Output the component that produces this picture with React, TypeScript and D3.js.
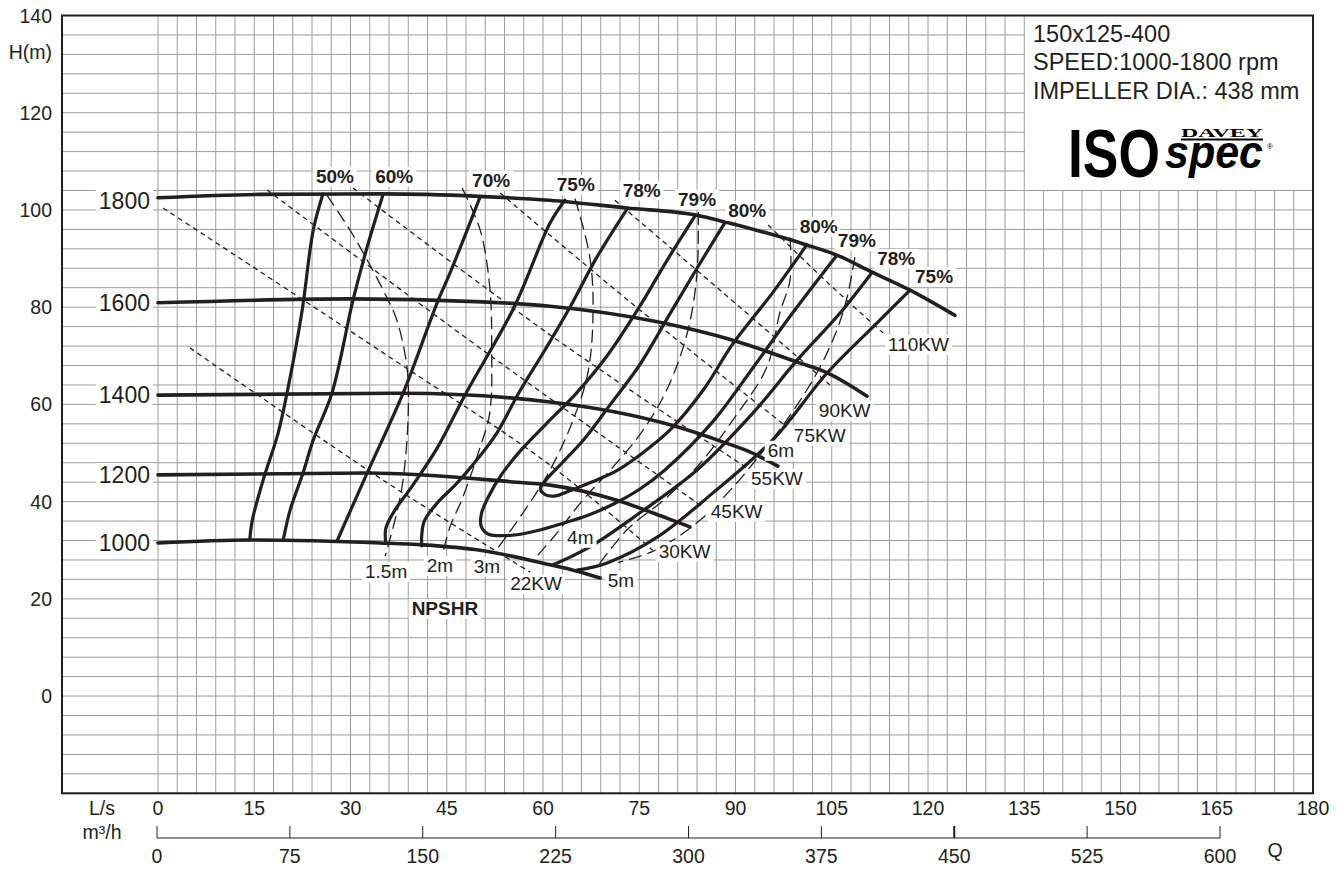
import React, { useEffect, useRef } from "react";
import * as d3 from "d3";

type Pt = [number, number];

// ---- axis ticks ----
const yTicks = [140, 120, 100, 80, 60, 40, 20, 0];
const lsTicks = [0, 15, 30, 45, 60, 75, 90, 105, 120, 135, 150, 165, 180];
const m3hTicks = [0, 75, 150, 225, 300, 375, 450, 525, 600];

// ---- speed curves (Q L/s, H m) ----
const speedNames = ["1800", "1600", "1400", "1200", "1000"];
const speed1800: Pt[] = [[0, 102.5], [16, 103.2], [35, 103.3], [50, 102.8], [61, 102.0], [73, 100.4], [84, 98.9], [88.4, 97.5], [101.1, 92.8], [105.8, 90.7], [111.3, 87.2], [117.2, 83.5], [124.2, 78.3]];
const speed1600: Pt[] = [[0, 80.9], [30, 81.7], [50.6, 81.1], [61.1, 80.2], [77.8, 77.0], [89.6, 73.2], [99.6, 68.7], [104.3, 66.5], [110.5, 61.7]];
const speed1400: Pt[] = [[0, 61.9], [38.2, 62.3], [61.1, 60.5], [79.8, 55.8], [88.0, 52.3], [92.3, 50.2], [96.6, 47.3]];
const speed1200: Pt[] = [[0, 45.5], [32.6, 45.9], [55.9, 44.0], [61.1, 43.4], [71.5, 40.3], [79.3, 36.6], [82.9, 34.8]];
const speed1000: Pt[] = [[0, 31.5], [14.3, 32.1], [34.6, 31.5], [41.3, 31.1], [50.2, 30.0], [61.1, 27.0], [64.7, 25.9], [68.9, 24.3]];

// ---- efficiency curves ----
const eff50: Pt[] = [[25.7, 103.3], [24.2, 95.9], [22.4, 78.8], [20.1, 62.3], [18.7, 54.0], [16.4, 44.5], [14.7, 36.2], [14.3, 32.1]];
const eff60: Pt[] = [[35.1, 103.3], [32.6, 92.4], [30.4, 81.5], [27.1, 62.3], [24.2, 52.7], [22.6, 45.9], [20.6, 38.3], [19.5, 32.0]];
const eff70: Pt[] = [[50.2, 102.7], [45.5, 87.0], [43.5, 80.9], [38.2, 62.3], [32.6, 45.9], [27.9, 31.9]];
const eff75L: Pt[] = [[63.4, 102.0], [61.1, 97.3], [55.5, 80.0], [48.0, 62.3], [43.5, 51.0], [39.5, 43.0], [36.8, 38.0], [35.5, 34.5], [35.5, 31.4]];
const eff78L: Pt[] = [[73.2, 100.4], [68.4, 90.3], [64.2, 80.0], [60.3, 71.2], [56.2, 62.3], [52.8, 54.1], [49.7, 48.6], [46.6, 43.8], [43.5, 39.7], [41.5, 36.0], [41.1, 33.0], [41.1, 30.9]];
const eff79: Pt[] = [[83.7, 98.8], [79.5, 90], [75, 80], [70, 70], [65, 62], [60.5, 56], [56.5, 50.5], [53.5, 45.5], [51.5, 41], [50.4, 37.5], [50.4, 34.8], [51.5, 33.3], [55.3, 33.1], [59, 34], [63, 35.5], [67, 37.2], [71, 39.5], [75, 42.5], [79, 46.5], [86.5, 56.5], [92.7, 67.5], [99, 79], [105.8, 90.7]];
const eff80: Pt[] = [[88.4, 97.5], [84, 88], [79.5, 78], [75, 68], [70.5, 60], [66.5, 53], [63, 48], [60.5, 44.5], [59.6, 42.6], [60.4, 41.4], [62, 41.2], [63.7, 42.0], [67.5, 44.0], [71, 46], [75, 49.5], [80, 55], [85, 63], [89.6, 72.5], [95.8, 83.0], [101.1, 92.8]];
const eff78R: Pt[] = [[111.3, 87.2], [106.3, 78.8], [99.6, 69.1], [92.7, 58.2], [84.0, 46.5], [75.1, 37.7], [67.3, 30.7], [61.6, 27.0]];
const eff75R: Pt[] = [[117.2, 83.5], [111.4, 75.9], [104.3, 66.5], [95.8, 52.7], [86.5, 41.8], [77.8, 32.7], [70.0, 27.4], [65.3, 25.9]];

// ---- power lines ----
const pw22: Pt[] = [[5.0, 71.6], [35.1, 44.4], [58.0, 25.5]];
const pw30: Pt[] = [[0.8, 100.4], [35.1, 70.6], [61.1, 47.5], [77.1, 30.0]];
const pw45: Pt[] = [[17.0, 104.1], [51.0, 70.8], [84.9, 38.9]];
const pw55: Pt[] = [[30.4, 104.5], [61.1, 74.3], [91.8, 46.9]];
const pw75: Pt[] = [[53.3, 103.5], [75.1, 79.4], [98.0, 55.4]];
const pw90: Pt[] = [[71.2, 102.0], [87.6, 83.5], [104.7, 64.0]];
const pw110: Pt[] = [[95.1, 96.9], [103.9, 85.6], [113.0, 74.7]];

// ---- NPSHR lines ----
const n15: Pt[] = [[26.3, 103.1], [29.9, 95.9], [32.6, 89.7], [35.1, 83.5], [37.2, 77.4], [38.8, 67.7], [39.0, 58.2], [38.2, 44.5], [37.2, 37.7], [35.7, 30.1], [35.4, 28.8]];
const n2: Pt[] = [[47.4, 104.5], [50.2, 95.9], [51.7, 84.2], [52.0, 71.8], [51.7, 58.2], [50.2, 51.2], [47.5, 40.9], [45.5, 34.8], [44.4, 29.4]];
const n3: Pt[] = [[65.0, 102.3], [67.3, 90.3], [67.8, 78.8], [67.0, 66.5], [64.7, 56.8], [61.1, 46.5], [57.2, 38.3], [52.5, 29.6]];
const n4: Pt[] = [[84.2, 99.6], [84.0, 87.0], [82.6, 75.3], [79.5, 63.6], [75.6, 54.7], [70.9, 47.1], [66.2, 40.3], [61.9, 33.1], [58.8, 28.4]];
const n5: Pt[] = [[98.5, 94.4], [98.5, 85.6], [96.9, 78.8], [94.9, 67.7], [89.6, 56.8], [84.5, 47.9], [79.3, 40.9], [73.1, 34.2], [68.4, 26.5]];
const n6: Pt[] = [[108.6, 90.3], [107.4, 82.1], [105.8, 75.3], [102.7, 66.5], [98.0, 56.8], [93.8, 49.6], [89.9, 43.4], [84.5, 36.2], [77.5, 30.0], [71.7, 27.5]];

const legendLines = ["150x125-400", "SPEED:1000-1800 rpm", "IMPELLER DIA.: 438 mm"];

const INK = "#231f20";
const FONT = "'Liberation Sans', Arial, Helvetica, sans-serif";

export default function App() {
  const ref = useRef<SVGSVGElement>(null);

  useEffect(() => {
    const svg = d3.select(ref.current as SVGSVGElement);
    svg.selectAll("*").remove();

    const L = 62, R = 1313, T = 15.5, B = 793.3;
    const x = d3.scaleLinear().domain([0, 180]).range([158, 1313]);
    const y = d3.scaleLinear().domain([-20, 140]).range([B, T]);
    const xm = d3.scaleLinear().domain([0, 600]).range([157, 1220]);

    svg.append("rect").attr("width", 1338).attr("height", 871).attr("fill", "#fff");

    // grid
    const grid = svg.append("g").attr("stroke", "#9c9c9c").attr("stroke-width", 1);
    d3.range(-20, 141, 4).forEach((h) => {
      grid.append("line").attr("x1", L).attr("x2", R).attr("y1", y(h)).attr("y2", y(h));
    });
    d3.range(0, 181, 3).forEach((q) => {
      grid.append("line").attr("x1", x(q)).attr("x2", x(q)).attr("y1", T).attr("y2", B);
    });

    // legend background
    svg.append("rect").attr("x", 1025).attr("y", T).attr("width", R - 1025).attr("height", 190 - T).attr("fill", "#fff");

    const lineCurve = d3.line<Pt>().x((d) => x(d[0])).y((d) => y(d[1])).curve(d3.curveCatmullRom.alpha(0.5));
    const lineMono = d3.line<Pt>().x((d) => x(d[0])).y((d) => y(d[1])).curve(d3.curveMonotoneX);

    const plot = svg.append("g").attr("fill", "none").attr("stroke", INK);

    // power lines
    [pw22, pw30, pw45, pw55, pw75, pw90, pw110].forEach((s) => {
      plot.append("path").attr("d", lineCurve(s)).attr("stroke-width", 1.3).attr("stroke-dasharray", "5 4");
    });
    // NPSH lines
    [n15, n2, n3, n4, n5, n6].forEach((s) => {
      plot.append("path").attr("d", lineCurve(s)).attr("stroke-width", 1.3).attr("stroke-dasharray", "13 6");
    });
    // efficiency curves
    [eff50, eff60, eff70, eff75L, eff78L, eff79, eff80, eff78R, eff75R].forEach((s) => {
      plot.append("path").attr("d", lineCurve(s)).attr("stroke-width", 3.2).attr("stroke-linejoin", "round").attr("stroke-linecap", "round");
    });
    // speed curves
    const speeds = [speed1800, speed1600, speed1400, speed1200, speed1000];
    speeds.forEach((s) => {
      plot.append("path").attr("d", lineMono(s)).attr("stroke-width", 3.6).attr("stroke-linecap", "round");
    });

    const labels = svg.append("g");
    const label = (
      txt: string, cx: number, cy: number, size: number,
      opts: { anchor?: string; bold?: boolean; bg?: boolean } = {}
    ) => {
      const g = labels.append("g");
      const t = g.append("text")
        .attr("x", cx).attr("y", cy + size * 0.36)
        .attr("text-anchor", opts.anchor ?? "middle")
        .attr("font-family", FONT).attr("font-size", size)
        .attr("font-weight", opts.bold ? "bold" : "normal")
        .attr("fill", INK).text(txt);
      if (opts.bg !== false) {
        const bb = (t.node() as SVGTextElement).getBBox();
        g.insert("rect", "text").attr("x", bb.x - 3).attr("y", bb.y + 1)
          .attr("width", bb.width + 6).attr("height", bb.height - 1).attr("fill", "#fff");
      }
    };
    const px = (s: Pt[], i: number): [number, number] => {
      const p = s[i < 0 ? s.length + i : i];
      return [x(p[0]), y(p[1])];
    };

    // speed labels
    speeds.forEach((s, i) => {
      const [sx, sy] = px(s, 0);
      label(speedNames[i], sx - 8, sy + (i === 0 ? 3 : 0), 23, { anchor: "end" });
    });

    // efficiency labels
    const effLabels: [string, Pt[], number, number, number][] = [
      ["50%", eff50, 0, 12, -18], ["60%", eff60, 0, 11, -18], ["70%", eff70, 0, 11, -17],
      ["75%", eff75L, 0, 11, -16], ["78%", eff78L, 0, 14, -18], ["79%", eff79, 0, 2, -17],
      ["80%", eff80, 0, 22, -12], ["80%", eff80, -1, 12, -19], ["79%", eff79, -1, 20, -15],
      ["78%", eff78R, 0, 24, -14], ["75%", eff75R, 0, 24, -14],
    ];
    effLabels.forEach(([t, s, i, dx, dy]) => {
      const [sx, sy] = px(s, i);
      label(t, sx + dx, sy + dy, 19, { bold: true });
    });

    // power labels (left-anchored)
    const pwLabels: [string, Pt[], number, number][] = [
      ["22KW", pw22, -20, 11], ["30KW", pw30, 6, 1], ["45KW", pw45, 8, 4], ["55KW", pw55, 4, 10],
      ["75KW", pw75, 7, 8], ["90KW", pw90, -11, 25], ["110KW", pw110, 5, 11],
    ];
    pwLabels.forEach(([t, s, dx, dy]) => {
      const [sx, sy] = px(s, -1);
      label(t, sx + dx, sy + dy, 19, { anchor: "start" });
    });

    // NPSH labels
    const nLabels: [string, Pt[], number, number, number][] = [
      ["1.5m", n15, -1, 1, 15], ["2m", n2, -1, -3, 12], ["3m", n3, -1, -8, 14],
      ["4m", n4, -1, 45, -21], ["5m", n5, -1, 24, 13], ["6m", n6, 5, 21, -5],
    ];
    nLabels.forEach(([t, s, i, dx, dy]) => {
      const [sx, sy] = px(s, i);
      label(t, sx + dx, sy + dy, 19);
    });
    {
      const [sx, sy] = px(n2, -1);
      label("NPSHR", sx + 2, sy + 55, 19, { bold: true });
    }

    // frame
    svg.append("rect").attr("x", L).attr("y", T).attr("width", R - L).attr("height", B - T)
      .attr("fill", "none").attr("stroke", INK).attr("stroke-width", 2);

    // y axis labels
    yTicks.forEach((v) => {
      svg.append("text").attr("x", 52).attr("y", y(v) + 7).attr("text-anchor", "end")
        .attr("font-family", FONT).attr("font-size", 19.5).attr("fill", INK).text(String(v));
    });
    svg.append("text").attr("x", 52).attr("y", 59).attr("text-anchor", "end")
      .attr("font-family", FONT).attr("font-size", 19.5).attr("fill", INK).text("H(m)");

    // x axis L/s
    lsTicks.forEach((v) => {
      svg.append("text").attr("x", x(v)).attr("y", 815).attr("text-anchor", "middle")
        .attr("font-family", FONT).attr("font-size", 19.5).attr("fill", INK).text(String(v));
    });
    svg.append("text").attr("x", 102).attr("y", 815).attr("text-anchor", "middle")
      .attr("font-family", FONT).attr("font-size", 19.5).attr("fill", INK).text("L/s");

    // m3/h axis
    svg.append("text").attr("x", 102).attr("y", 839).attr("text-anchor", "middle")
      .attr("font-family", FONT).attr("font-size", 19.5).attr("fill", INK).text("m³/h");
    svg.append("line").attr("x1", xm(0)).attr("x2", xm(600)).attr("y1", 838).attr("y2", 838)
      .attr("stroke", INK).attr("stroke-width", 1);
    m3hTicks.forEach((v) => {
      svg.append("line").attr("x1", xm(v)).attr("x2", xm(v)).attr("y1", 826).attr("y2", 838)
        .attr("stroke", INK).attr("stroke-width", v === 450 ? 2 : 1);
      svg.append("text").attr("x", xm(v)).attr("y", 863).attr("text-anchor", "middle")
        .attr("font-family", FONT).attr("font-size", 19.5).attr("fill", INK).text(String(v));
    });
    svg.append("text").attr("x", 1275).attr("y", 857).attr("text-anchor", "middle")
      .attr("font-family", FONT).attr("font-size", 19.5).attr("fill", INK).text("Q");

    // legend text
    legendLines.forEach((t, i) => {
      svg.append("text").attr("x", 1033).attr("y", 41.5 + i * 28.5)
        .attr("font-family", FONT).attr("font-size", 23.5).attr("fill", INK).text(t);
    });
    // logo
    svg.append("text").attr("x", 1068).attr("y", 177).attr("font-family", FONT)
      .attr("font-size", 69).attr("font-weight", "bold").attr("fill", "#000")
      .attr("textLength", 92).attr("lengthAdjust", "spacingAndGlyphs").text("ISO");
    svg.append("text").attr("x", 1181).attr("y", 136.5).attr("font-family", "'Liberation Serif', 'DejaVu Serif', serif")
      .attr("font-size", 12.5).attr("font-weight", "bold").attr("fill", "#000")
      .attr("textLength", 82).attr("lengthAdjust", "spacingAndGlyphs").text("DAVEY");
    svg.append("line").attr("x1", 1181).attr("x2", 1263).attr("y1", 139.5).attr("y2", 139.5)
      .attr("stroke", "#000").attr("stroke-width", 1.8);
    svg.append("text").attr("x", 1165).attr("y", 168).attr("font-family", FONT)
      .attr("font-size", 47).attr("font-weight", "bold").attr("font-style", "italic").attr("fill", "#000")
      .attr("textLength", 98).attr("lengthAdjust", "spacingAndGlyphs").text("spec");
    svg.append("text").attr("x", 1267).attr("y", 149).attr("font-family", FONT)
      .attr("font-size", 8).attr("fill", "#000").text("®");
  }, []);

  return (
    <svg
      ref={ref}
      width={1338}
      height={871}
      style={{ position: "absolute", left: 0, top: 0, display: "block" }}
    />
  );
}
